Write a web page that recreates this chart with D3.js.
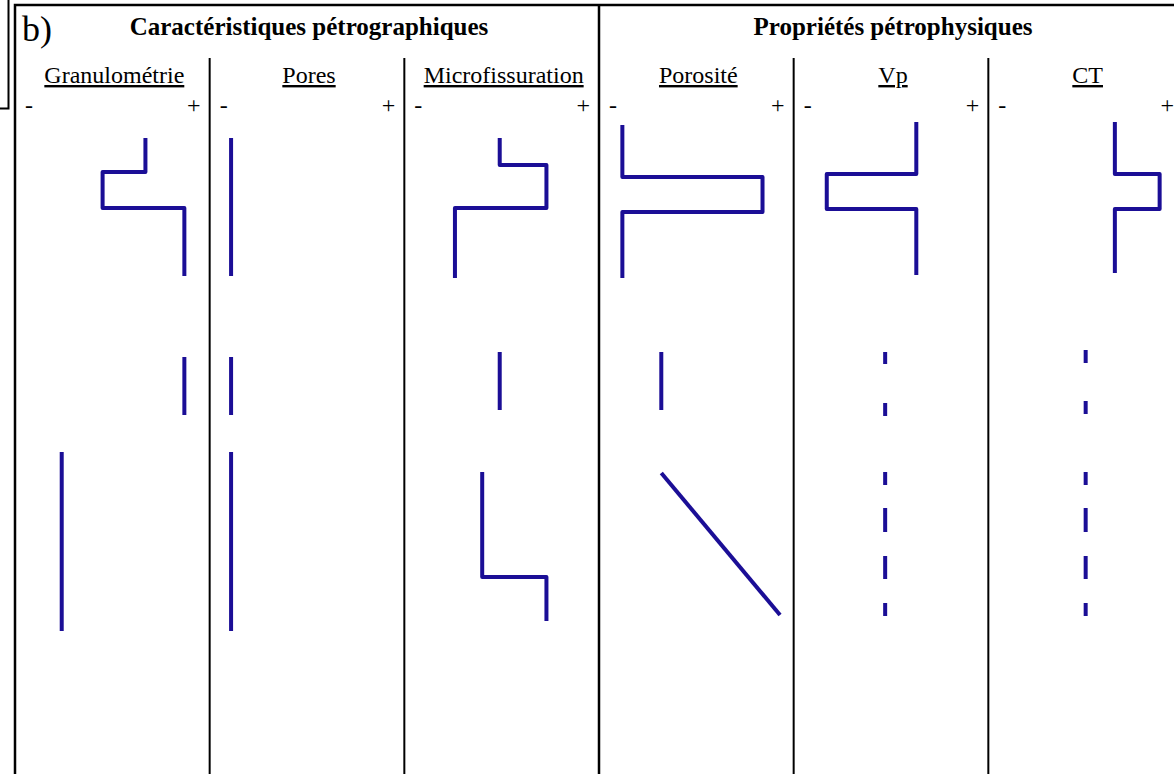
<!DOCTYPE html>
<html>
<head>
<meta charset="utf-8">
<script src="https://cdn.jsdelivr.net/npm/d3@7"></script>
<style>
  body { margin: 0; background: #fff; }
</style>
</head>
<body>
<script>
// columns and their groups
var sections = ["Caractéristiques pétrographiques", "Propriétés pétrophysiques"];
var columns = ["Granulométrie", "Pores", "Microfissuration", "Porosité", "Vp", "CT"];
var sectionOf = [0, 0, 0, 1, 1, 1];
var scaleLabels = ["-", "+"];

// profiles: [value (0 = "-", 100 = "+"), depth]
var granulometrie = [
  [[67, 28], [67, 62], [45, 62], [45, 98], [87, 98], [87, 166]],
  [[87, 247], [87, 305]],
  [[24, 342], [24, 521]]
];
var pores = [
  [[11, 28], [11, 166]],
  [[11, 247], [11, 305]],
  [[11, 342], [11, 521]]
];
var microfissuration = [
  [[49, 28], [49, 55], [73, 55], [73, 98], [26, 98], [26, 168]],
  [[49, 242], [49, 300]],
  [[40, 362], [40, 467], [73, 467], [73, 511]]
];
var porosite = [
  [[12, 15], [12, 67], [84, 67], [84, 102], [12, 102], [12, 168]],
  [[32, 242], [32, 300]],
  [[32, 363], [93, 505]]
];
var vp = [
  [[63, 12], [63, 64], [17, 64], [17, 99], [63, 99], [63, 165]],
  [[47, 242], [47, 254]], [[47, 293], [47, 306]], [[47, 362], [47, 375]],
  [[47, 398], [47, 422]], [[47, 446], [47, 469]], [[47, 493], [47, 506]]
];
var ct = [
  [[65, 12], [65, 64], [88, 64], [88, 99], [65, 99], [65, 163]],
  [[50, 240], [50, 253]], [[50, 291], [50, 304]], [[50, 362], [50, 375]],
  [[50, 398], [50, 422]], [[50, 446], [50, 469]], [[50, 493], [50, 506]]
];
var profiles = [granulometrie, pores, microfissuration, porosite, vp, ct];

var width = 1174;
var height = 774;
var blue = "#1b0e96";
var serif = "'Liberation Serif', 'Times New Roman', serif";

var svg = d3.select("body").append("svg")
    .attr("width", width)
    .attr("height", height)
    .attr("font-family", serif);

var col = d3.scaleBand()
    .domain(columns)
    .range([15, 1183]);

var y = d3.scaleLinear()
    .domain([0, 660])
    .range([110, 770]);

// stray corner of the neighbouring panel
svg.append("path")
    .attr("d", "M8.5,0V108.5H0")
    .attr("fill", "none")
    .attr("stroke", "#000")
    .attr("stroke-width", 2);

// frame
svg.append("path")
    .attr("d", "M15," + height + "V5H" + width)
    .attr("fill", "none")
    .attr("stroke", "#000")
    .attr("stroke-width", 2.5);

svg.append("text")
    .attr("x", 22)
    .attr("y", 41)
    .attr("font-size", 36)
    .text("b)");

// section titles and divider
sections.forEach(function(s, i){
  var cols = columns.filter(function(c, j){ return sectionOf[j] === i; });
  var x0 = col(cols[0]);
  var x1 = col(cols[cols.length - 1]) + col.bandwidth();
  svg.append("text")
    .attr("x", (x0 + x1) / 2 + 2)
    .attr("y", 35)
    .attr("text-anchor", "middle")
    .attr("font-size", 25)
    .attr("font-weight", "bold")
    .text(s);
  if (i > 0) {
    svg.append("line")
      .attr("x1", x0).attr("x2", x0)
      .attr("y1", 5).attr("y2", height)
      .attr("stroke", "#000")
      .attr("stroke-width", 2.5);
  }
});

// column headers
var head = svg.selectAll(".col")
    .data(columns)
  .enter().append("g")
    .attr("class", "col")
    .attr("transform", function(d){ return "translate(" + col(d) + ",0)"; });

head.append("text")
    .attr("x", col.bandwidth() / 2 + 2)
    .attr("y", 83)
    .attr("text-anchor", "middle")
    .attr("font-size", 24)
    .style("text-decoration", "underline")
    .text(function(d){ return d; });

head.append("text")
    .attr("x", 10)
    .attr("y", 113)
    .attr("font-size", 24)
    .text(scaleLabels[0]);

head.append("text")
    .attr("x", col.bandwidth() - 9)
    .attr("y", 113)
    .attr("text-anchor", "end")
    .attr("font-size", 24)
    .text(scaleLabels[1]);

head.filter(function(d, i){ return i > 0 && sectionOf[i] === sectionOf[i - 1]; })
  .append("line")
    .attr("x1", 0).attr("x2", 0)
    .attr("y1", 58).attr("y2", height)
    .attr("stroke", "#000")
    .attr("stroke-width", 2);

// profiles
var x = d3.scaleLinear()
    .domain([0, 100])
    .range([0, col.bandwidth()]);

var line = d3.line()
    .x(function(d){ return x(d[0]); })
    .y(function(d){ return y(d[1]); });

head.selectAll(".profile")
    .data(function(d, i){ return profiles[i]; })
  .enter().append("path")
    .attr("class", "profile")
    .attr("d", line)
    .attr("fill", "none")
    .attr("stroke", blue)
    .attr("stroke-width", 4)
    .attr("stroke-linejoin", "round");
</script>
</body>
</html>
